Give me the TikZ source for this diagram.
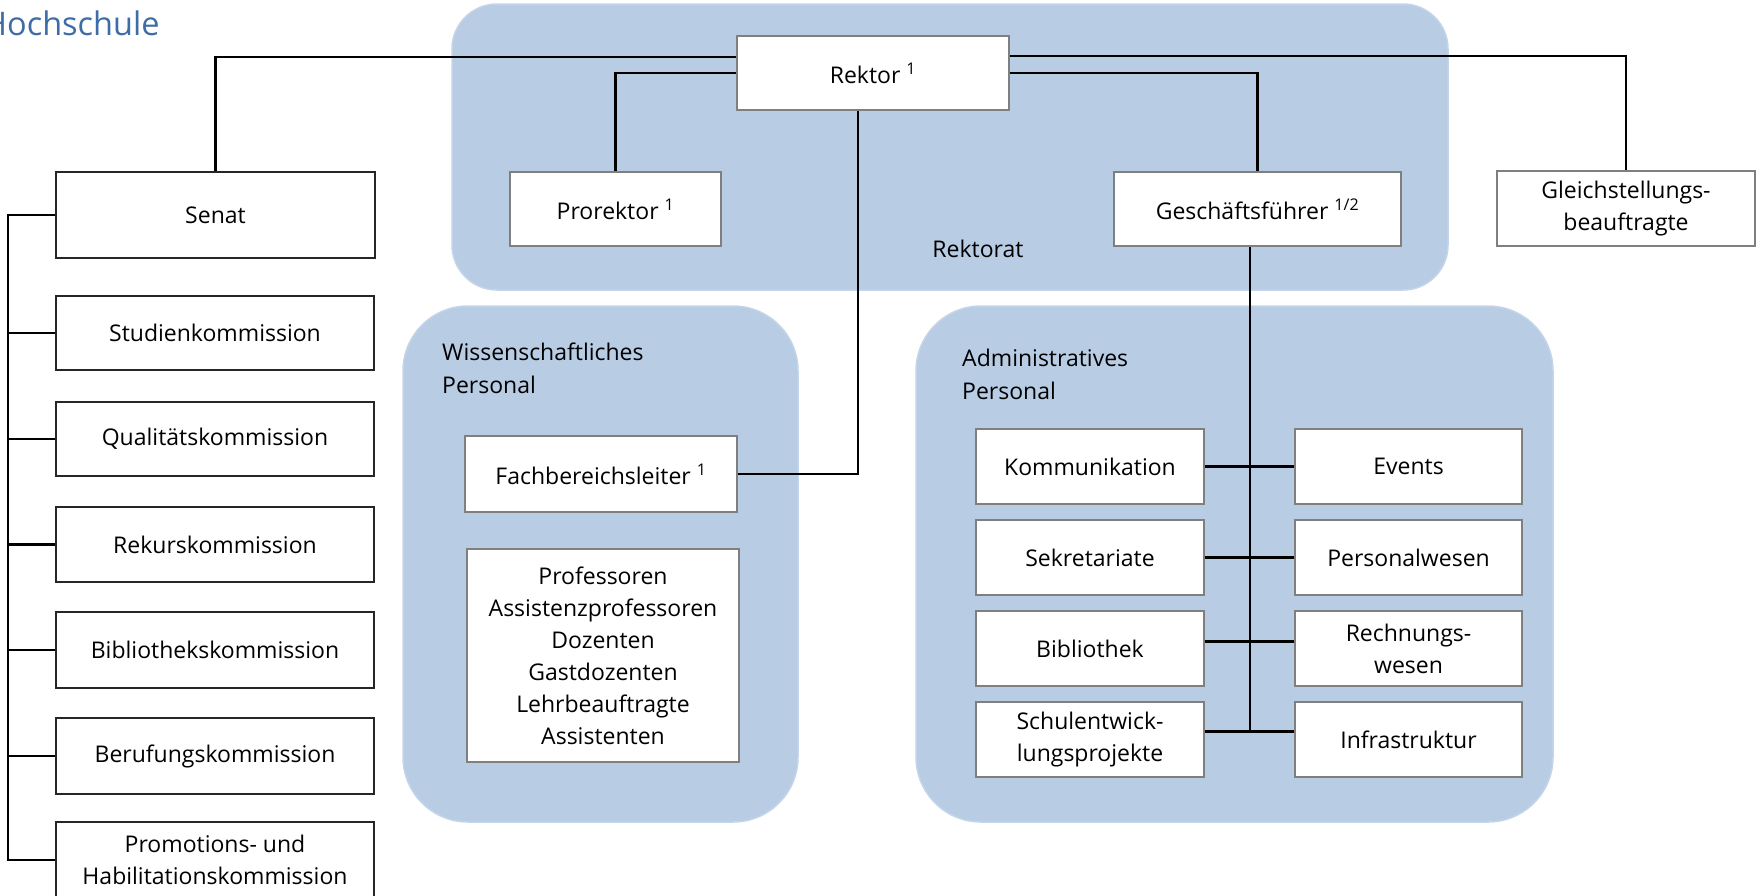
\documentclass[tikz,border=0pt]{standalone}
\usepackage{fontspec}
\setmainfont{Open Sans}
\definecolor{regionblue}{HTML}{B8CCE4}
\definecolor{regionedge}{HTML}{C4D5EA}
\definecolor{boxgray}{HTML}{7F7F7F}
\definecolor{titleblue}{HTML}{3E6CA6}
\begin{document}
\begin{tikzpicture}[x=1pt,y=-1pt,
  region/.style={fill=regionblue,draw=regionedge,line width=1.5pt},
  gbox/.style={draw=boxgray,fill=white,line width=1.8pt,inner sep=0pt,align=center,font=\fontsize{23}{32}\selectfont},
  kbox/.style={gbox,draw=black!85,line width=2.2pt},
  conn/.style={draw=black,line width=2.2pt},
  lbl/.style={inner sep=0pt,align=left,font=\fontsize{23}{33}\selectfont},
]
\useasboundingbox (0,0) rectangle (1764,895);

% title
\node[anchor=base west,inner sep=0pt,text=titleblue,font=\fontsize{32.5}{38}\selectfont] (title) at (-17,35) {Hochschule};

% regions
\draw[region,rounded corners=45pt] (452,4) rectangle (1448,290);
\draw[region,rounded corners=65pt] (403,306) rectangle (798,822);
\draw[region,rounded corners=65pt] (916,306) rectangle (1553,822);

% Rektorat
\node[gbox,minimum width=272pt,minimum height=74pt] (rektor) at (873,73) {Rektor \textsuperscript{1}};
\node[gbox,minimum width=211pt,minimum height=74pt] (pro) at (615.5,209) {Prorektor \textsuperscript{1}};
\node[gbox,minimum width=287pt,minimum height=74pt] (gf) at (1257.5,209) {Geschäftsführer \textsuperscript{1/2}};
\node[lbl] (rektorat) at (978,249) {Rektorat};
\node[gbox,minimum width=258pt,minimum height=75pt] (gleich) at (1626,208.5) {Gleichstellungs-\\beauftragte};

% Senat and commissions
\node[kbox,minimum width=319pt,minimum height=86pt] (senat) at (215.5,215) {Senat};
\node[kbox,minimum width=318pt,minimum height=74pt] (studien) at (215,333) {Studienkommission};
\node[kbox,minimum width=318pt,minimum height=74pt] (qual) at (215,439) {Qualitätskommission};
\node[kbox,minimum width=318pt,minimum height=75pt] (rekurs) at (215,544.5) {Rekurskommission};
\node[kbox,minimum width=318pt,minimum height=76pt] (biblk) at (215,650) {Bibliothekskommission};
\node[kbox,minimum width=318pt,minimum height=76pt] (beruf) at (215,756) {Berufungskommission};
\node[kbox,minimum width=318pt,minimum height=76pt] (promo) at (215,860) {Promotions- und\\Habilitationskommission};

% Wissenschaftliches Personal
\node[lbl,anchor=north west] (wisslbl) at (442,343) {Wissenschaftliches\\Personal};
\node[gbox,minimum width=272pt,minimum height=76pt] (fbl) at (601,474) {Fachbereichsleiter \textsuperscript{1}};
\node[gbox,minimum width=272pt,minimum height=213pt] (prof) at (603,655.5) {Professoren\\Assistenzprofessoren\\Dozenten\\Gastdozenten\\Lehrbeauftragte\\Assistenten};

% Administratives Personal
\node[lbl,anchor=north west] (adminlbl) at (962,349) {Administratives\\Personal};
\node[gbox,minimum width=228pt,minimum height=75pt] (kom) at (1090,466.5) {Kommunikation};
\node[gbox,minimum width=228pt,minimum height=75pt] (sek) at (1090,557.5) {Sekretariate};
\node[gbox,minimum width=228pt,minimum height=75pt] (bib) at (1090,648.5) {Bibliothek};
\node[gbox,minimum width=228pt,minimum height=75pt] (schul) at (1090,739.5) {Schulentwick-\\lungsprojekte};
\node[gbox,minimum width=227pt,minimum height=75pt] (ev) at (1408.5,466.5) {Events};
\node[gbox,minimum width=227pt,minimum height=75pt] (pw) at (1408.5,557.5) {Personalwesen};
\node[gbox,minimum width=227pt,minimum height=75pt] (rw) at (1408.5,648.5) {Rechnungs-\\wesen};
\node[gbox,minimum width=227pt,minimum height=75pt] (infra) at (1408.5,739.5) {Infrastruktur};

% connectors from Rektor
\draw[conn] ([yshift=16pt]rektor.west) -| (senat.north);
\draw[conn] ([yshift=17pt]rektor.east) -| (gleich.north);
\draw[conn] (rektor.west) -| (pro.north);
\draw[conn] (rektor.east) -| (gf.north);
\draw[conn] ([xshift=-15pt]rektor.south) |- (fbl.east);

% Senat trunk
\draw[conn] (senat.west) -- ++(-47,0) coordinate (trunk) |- (promo.west);
\foreach \n in {studien,qual,rekurs,biblk,beruf}
  \draw[conn] (trunk |- \n.west) -- (\n.west);

% Geschaeftsfuehrer trunk
\coordinate (gtop) at ([xshift=-7.5pt]gf.south);
\coordinate (gbot) at ([yshift=8pt]schul.east);
\draw[conn] (gtop) -- (gtop |- gbot);
\draw[conn] (kom.east) -- (ev.west);
\draw[conn] (sek.east) -- (pw.west);
\draw[conn] ([yshift=7pt]bib.east) -- ([yshift=7pt]rw.west);
\draw[conn] ([yshift=8pt]schul.east) -- ([yshift=8pt]infra.west);
\end{tikzpicture}
\end{document}
